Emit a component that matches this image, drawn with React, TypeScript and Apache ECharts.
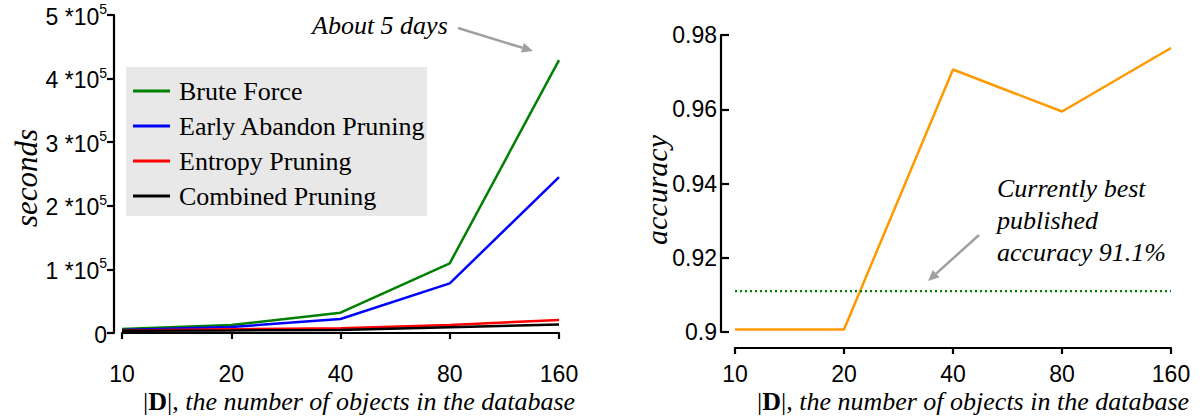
import React, { useEffect, useRef } from "react";
import * as echarts from "echarts";

const categories = ["10", "20", "40", "80", "160"];
const bruteForce = [6300, 12600, 32000, 109600, 429000];
const earlyAbandon = [4700, 9400, 22000, 78000, 245000];
const entropyPruning = [4000, 6000, 7400, 12600, 20400];
const combinedPruning = [3500, 4000, 4700, 9000, 13400];
const accuracy = [0.9007, 0.9007, 0.9707, 0.9594, 0.9765];
const bestPublished = [0.911, 0.911, 0.911, 0.911, 0.911];
const leftTicks = { min: 0, max: 500000, interval: 100000 };
const rightTicks = { min: 0.9, max: 0.98, interval: 0.02 };

const SANS = "'Liberation Sans', Arial, sans-serif";
const SERIF = "'Liberation Serif', 'Times New Roman', serif";

function arrow(x1: number, y1: number, x2: number, y2: number, color: string) {
  const ang = Math.atan2(y2 - y1, x2 - x1);
  const hl = 11;
  const hw = 5;
  const bx = x2 - hl * Math.cos(ang);
  const by = y2 - hl * Math.sin(ang);
  const px = -Math.sin(ang) * hw;
  const py = Math.cos(ang) * hw;
  return [
    {
      type: "line",
      shape: { x1, y1, x2: bx, y2: by },
      style: { stroke: color, lineWidth: 2.5 },
    },
    {
      type: "polygon",
      shape: { points: [[x2, y2], [bx + px, by + py], [bx - px, by - py]] },
      style: { fill: color },
    },
  ];
}

export default function App() {
  const ref = useRef<HTMLDivElement>(null);
  useEffect(() => {
    if (!ref.current) return;
    const chart = echarts.init(ref.current, undefined, { renderer: "svg" });
    const axisLineStyle = { color: "#000", width: 2.2 };
    const xTitleRich = {
      p: { fontFamily: SERIF, fontSize: 26, fontStyle: "normal", fill: "#000" },
      b: { fontFamily: SERIF, fontSize: 26, fontWeight: "bold", fill: "#000" },
      i: { fontFamily: SERIF, fontSize: 26, fontStyle: "italic", fill: "#000" },
    };
    const xTitleText = "{p||}{b|D}{p||}{i|, the number of objects in the database}";
    const option: any = {
      animation: false,
      backgroundColor: "#fff",
      grid: [
        { left: 122, right: 644, top: 15, bottom: 84 },
        { left: 735, right: 32, top: 35, bottom: 85 },
      ],
      legend: {
        data: ["Brute Force", "Early Abandon Pruning", "Entropy Pruning", "Combined Pruning"],
        orient: "vertical",
        left: 126,
        top: 67,
        backgroundColor: "#e8e8e8",
        padding: [11, 1, 7, 7],
        itemGap: 9,
        icon: "rect",
        itemWidth: 37,
        itemHeight: 3,
        textStyle: {
          fontFamily: SERIF,
          fontSize: 26,
          color: "#000",
          padding: [0, 0, 0, 4],
        },
      },
      xAxis: [
        {
          gridIndex: 0,
          type: "category",
          data: categories,
          boundaryGap: false,
          offset: 15,
          axisLine: { show: true, lineStyle: axisLineStyle },
          axisTick: { show: true, length: 6, lineStyle: axisLineStyle },
          axisLabel: { fontFamily: SANS, fontSize: 23, color: "#000", margin: 14 },
          splitLine: { show: false },
        },
        {
          gridIndex: 1,
          type: "category",
          data: categories,
          boundaryGap: false,
          offset: 16,
          axisLine: { show: true, lineStyle: axisLineStyle },
          axisTick: { show: true, length: 6, lineStyle: axisLineStyle },
          axisLabel: { fontFamily: SANS, fontSize: 23, color: "#000", margin: 14 },
          splitLine: { show: false },
        },
      ],
      yAxis: [
        {
          gridIndex: 0,
          type: "value",
          min: leftTicks.min,
          max: leftTicks.max,
          interval: leftTicks.interval,
          offset: 8,
          axisLine: { show: true, lineStyle: axisLineStyle },
          axisTick: { show: true, length: 7, lineStyle: axisLineStyle },
          splitLine: { show: false },
          axisLabel: {
            margin: 7,
            formatter: (v: number) => {
              const n = Math.round(v / 100000);
              return n === 0 ? "{a|0}" : `{a|${n} *10}{s|5}`;
            },
            rich: {
              a: { fontFamily: SANS, fontSize: 23, color: "#000", lineHeight: 26, verticalAlign: "bottom" },
              s: { fontFamily: SANS, fontSize: 14, color: "#000", lineHeight: 26, verticalAlign: "top", padding: [0, 0, 8, 0] },
            },
          },
        },
        {
          gridIndex: 1,
          type: "value",
          min: rightTicks.min,
          max: rightTicks.max,
          interval: rightTicks.interval,
          offset: 14,
          axisLine: { show: true, lineStyle: axisLineStyle },
          axisTick: { show: true, inside: true, length: 8, lineStyle: axisLineStyle },
          splitLine: { show: false },
          axisLabel: {
            margin: 4,
            fontFamily: SANS,
            fontSize: 23,
            color: "#000",
            formatter: (v: number) => String(parseFloat(v.toFixed(2))),
          },
        },
      ],
      series: [
        {
          name: "Brute Force",
          type: "line",
          xAxisIndex: 0,
          yAxisIndex: 0,
          data: bruteForce,
          symbol: "none",
          color: "#008000",
          lineStyle: { width: 2.5, color: "#008000" },
        },
        {
          name: "Early Abandon Pruning",
          type: "line",
          xAxisIndex: 0,
          yAxisIndex: 0,
          data: earlyAbandon,
          symbol: "none",
          color: "#0000ff",
          lineStyle: { width: 2.5, color: "#0000ff" },
        },
        {
          name: "Entropy Pruning",
          type: "line",
          xAxisIndex: 0,
          yAxisIndex: 0,
          data: entropyPruning,
          symbol: "none",
          color: "#ff0000",
          lineStyle: { width: 2.5, color: "#ff0000" },
        },
        {
          name: "Combined Pruning",
          type: "line",
          xAxisIndex: 0,
          yAxisIndex: 0,
          data: combinedPruning,
          symbol: "none",
          color: "#000000",
          lineStyle: { width: 2.5, color: "#000000" },
        },
        {
          name: "accuracy",
          type: "line",
          xAxisIndex: 1,
          yAxisIndex: 1,
          data: accuracy,
          symbol: "none",
          color: "#ff9900",
          lineStyle: { width: 2.5, color: "#ff9900" },
        },
        {
          name: "best published",
          type: "line",
          xAxisIndex: 1,
          yAxisIndex: 1,
          data: bestPublished,
          symbol: "none",
          color: "#008000",
          lineStyle: { width: 2.2, color: "#008000", type: [2, 3] },
        },
      ],
      graphic: [
        {
          type: "text",
          x: 26,
          y: 178,
          rotation: Math.PI / 2,
          style: {
            text: "seconds",
            font: `italic 31px ${SERIF}`,
            fill: "#000",
            align: "center",
            verticalAlign: "middle",
          },
        },
        {
          type: "text",
          x: 656,
          y: 190,
          rotation: Math.PI / 2,
          style: {
            text: "accuracy",
            font: `italic 30px ${SERIF}`,
            fill: "#000",
            align: "center",
            verticalAlign: "middle",
          },
        },
        {
          type: "text",
          x: 143,
          y: 401,
          style: { text: xTitleText, rich: xTitleRich, verticalAlign: "middle", align: "left" },
        },
        {
          type: "text",
          x: 757,
          y: 401,
          style: { text: xTitleText, rich: xTitleRich, verticalAlign: "middle", align: "left" },
        },
        {
          type: "text",
          x: 312,
          y: 25,
          style: {
            text: "About 5 days",
            font: `italic 26px ${SERIF}`,
            fill: "#000",
            verticalAlign: "middle",
          },
        },
        ...arrow(458, 28, 533, 51, "#a0a0a0"),
        {
          type: "text",
          x: 997,
          y: 172,
          style: {
            text: "Currently best\npublished\naccuracy 91.1%",
            font: `italic 26px ${SERIF}`,
            lineHeight: 32,
            fill: "#000",
            verticalAlign: "top",
          },
        },
        ...arrow(979, 235, 928, 281, "#a0a0a0"),
      ],
    };
    chart.setOption(option);
    return () => chart.dispose();
  }, []);
  return (
    <div
      ref={ref}
      style={{ position: "absolute", left: 0, top: 0, width: 1203, height: 417 }}
    />
  );
}
